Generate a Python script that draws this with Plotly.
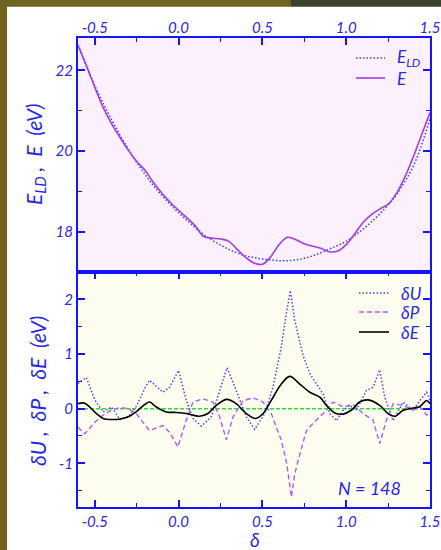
import plotly.graph_objects as go

# ---------------- data ----------------
X_RANGE = [-0.6, 1.5]

delta_top = [-0.60, -0.55, -0.50, -0.45, -0.40, -0.35, -0.30, -0.25, -0.20, -0.15,
             -0.10, -0.05, 0.00, 0.05, 0.10, 0.15, 0.20, 0.25, 0.30, 0.35,
             0.40, 0.45, 0.50, 0.55, 0.60, 0.65, 0.70, 0.75, 0.80, 0.85,
             0.90, 0.95, 1.00, 1.05, 1.10, 1.15, 1.20, 1.25, 1.30, 1.35,
             1.40, 1.45, 1.50]
E_vals = [22.62, 22.12, 21.58, 21.08, 20.68, 20.34, 20.02, 19.74, 19.52, 19.22,
          18.96, 18.73, 18.53, 18.34, 18.14, 17.88, 17.84, 17.82, 17.76, 17.56,
          17.36, 17.22, 17.19, 17.38, 17.68, 17.86, 17.80, 17.70, 17.64, 17.59,
          17.50, 17.52, 17.68, 17.94, 18.22, 18.42, 18.56, 18.68, 18.95, 19.35,
          19.85, 20.40, 20.95]
ELD_vals = [22.62, 22.10, 21.62, 21.18, 20.78, 20.40, 20.05, 19.72, 19.42, 19.14,
            18.90, 18.68, 18.47, 18.28, 18.10, 17.93, 17.79, 17.67, 17.56, 17.47,
            17.40, 17.36, 17.32, 17.30, 17.28, 17.28, 17.30, 17.34, 17.40, 17.48,
            17.57, 17.66, 17.76, 17.90, 18.06, 18.24, 18.44, 18.66, 18.92, 19.24,
            19.62, 20.15, 20.80]

dU_x = [-0.60, -0.55, -0.50, -0.45, -0.40, -0.35, -0.30, -0.25, -0.20, -0.173,
        -0.094, -0.054, 0.0, 0.046, 0.086, 0.136, 0.195, 0.254, 0.289, 0.344,
        0.404, 0.454, 0.514, 0.563, 0.613, 0.639, 0.667, 0.693, 0.713, 0.743,
        0.783, 0.822, 0.862, 0.902, 0.942, 0.982, 1.02, 1.06, 1.12, 1.16,
        1.20, 1.23, 1.28, 1.34, 1.40, 1.44, 1.48, 1.50]
dU_y = [0.46, 0.57, 0.16, -0.06, 0.03, -0.20, -0.15, 0.05, 0.38, 0.52,
        0.30, 0.39, 0.70, 0.15, -0.18, -0.32, -0.15, 0.40, 0.75, 0.33,
        -0.15, -0.38, -0.09, 0.39, 1.13, 1.67, 2.16, 1.61, 1.37, 0.97,
        0.64, 0.46, 0.27, -0.09, -0.22, -0.03, 0.06, -0.03, 0.33, 0.39,
        0.71, 0.21, -0.22, 0.12, -0.03, 0.15, 0.30, 0.15]

dP_x = [-0.60, -0.56, -0.50, -0.45, -0.40, -0.35, -0.30, -0.25, -0.20, -0.173,
        -0.094, -0.054, -0.004, 0.046, 0.086, 0.145, 0.205, 0.245, 0.285, 0.325,
        0.384, 0.444, 0.504, 0.553, 0.613, 0.645, 0.673, 0.693, 0.713, 0.763,
        0.822, 0.872, 0.922, 0.982, 1.04, 1.10, 1.16, 1.20, 1.24, 1.28,
        1.34, 1.40, 1.44, 1.48, 1.50]
dP_y = [-0.34, -0.46, -0.25, -0.12, -0.03, 0.02, 0.00, -0.10, -0.30, -0.40,
        -0.31, -0.43, -0.70, -0.21, 0.12, 0.18, 0.12, -0.15, -0.57, -0.15,
        0.14, 0.20, 0.12, -0.09, -0.58, -1.00, -1.62, -1.20, -0.95, -0.40,
        -0.21, -0.06, 0.12, 0.03, 0.08, -0.09, -0.21, -0.64, -0.21, 0.09,
        0.06, -0.03, 0.03, -0.12, -0.06]

dE_x = [-0.60, -0.56, -0.49, -0.45, -0.39, -0.35, -0.30, -0.25, -0.20, -0.173,
        -0.133, -0.074, -0.014, 0.046, 0.125, 0.175, 0.225, 0.289, 0.344, 0.404,
        0.46, 0.504, 0.553, 0.613, 0.663, 0.723, 0.783, 0.842, 0.882, 0.932,
        0.982, 1.03, 1.08, 1.13, 1.20, 1.25, 1.29, 1.34, 1.40, 1.44,
        1.48, 1.50]
dE_y = [0.09, 0.10, -0.09, -0.18, -0.20, -0.19, -0.15, -0.05, 0.08, 0.12,
        0.03, -0.06, -0.07, -0.09, -0.14, -0.09, 0.06, 0.17, 0.09, -0.09,
        -0.18, -0.09, 0.15, 0.45, 0.59, 0.45, 0.30, 0.21, 0.06, -0.08,
        -0.10, -0.03, 0.12, 0.16, 0.06, -0.09, -0.14, -0.03, 0.01, 0.04,
        0.15, 0.09]

x_tickvals = [-0.5, 0.0, 0.5, 1.0, 1.5]
x_ticktext = ["-0.5", "0.0", "0.5", "1.0", "1.5"]
y1_tickvals = [18, 20, 22]
y1_ticktext = ["18", "20", "22"]
y2_tickvals = [-1, 0, 1, 2]
y2_ticktext = ["-1", "0", "1", "2"]

# ---------------- styling ----------------
AX = "#1414ff"
TX = "#2828e8"
FONT = "Lato"
W, H = 441, 550
ML, MR, MT, MB = 78, 11, 38, 43
PW, PH = W - ML - MR, H - MT - MB

C_ELD = "#3c3cf0"
C_E = "#a23ee6"
C_DU = "#4646f2"
C_DP = "#b45af0"
C_DE = "black"
DOT = "1.5px,2px"
DASH = "5px,3px"


def px_x(p):
    return (p - ML) / PW


def px_y(p):
    return (H - MB - p) / PH


fig = go.Figure()

# top panel
fig.add_trace(go.Scatter(x=delta_top, y=ELD_vals, mode="lines", name="E_LD",
                         line=dict(color=C_ELD, width=1.5, dash=DOT, shape="spline"),
                         xaxis="x", yaxis="y"))
fig.add_trace(go.Scatter(x=delta_top, y=E_vals, mode="lines", name="E",
                         line=dict(color=C_E, width=1.6, shape="spline"),
                         xaxis="x", yaxis="y"))

# bottom panel
fig.add_trace(go.Scatter(x=X_RANGE, y=[0, 0], mode="lines",
                         line=dict(color="#2ee02e", width=1.5, dash="4px,2px"),
                         xaxis="x2", yaxis="y2", hoverinfo="skip"))
fig.add_trace(go.Scatter(x=dU_x, y=dU_y, mode="lines", name="δU",
                         line=dict(color=C_DU, width=1.5, dash=DOT),
                         xaxis="x2", yaxis="y2"))
fig.add_trace(go.Scatter(x=dP_x, y=dP_y, mode="lines", name="δP",
                         line=dict(color=C_DP, width=1.4, dash=DASH),
                         xaxis="x2", yaxis="y2"))
fig.add_trace(go.Scatter(x=dE_x, y=dE_y, mode="lines", name="δE",
                         line=dict(color=C_DE, width=1.6, shape="spline"),
                         xaxis="x2", yaxis="y2"))

tickfont = dict(family=FONT, size=15, color=TX, style="italic")
split = 235 / PH

common_x = dict(range=X_RANGE, tickvals=x_tickvals, ticktext=x_ticktext,
                ticks="inside", ticklen=7, tickwidth=1.5, tickcolor=AX,
                showline=True, linecolor=AX, linewidth=2, automargin=False,
                showgrid=False, zeroline=False, tickfont=tickfont,
                minor=dict(dtick=0.25, tick0=0, ticks="inside", ticklen=4,
                           tickwidth=1.2, tickcolor=AX))
common_y = dict(ticks="inside", ticklen=7, tickwidth=1.5, tickcolor=AX,
                showline=True, linecolor=AX, linewidth=2, mirror="ticks", automargin=False,
                showgrid=False, zeroline=False, tickfont=tickfont)

fig.update_layout(
    template="none",
    width=W, height=H, autosize=False,
    margin=dict(l=ML, r=MR, t=MT, b=MB, pad=0),
    paper_bgcolor="white", plot_bgcolor="white",
    font=dict(family=FONT, color=TX, style="italic"),
    showlegend=False,
    xaxis=dict(common_x, anchor="y", side="top", mirror=True, domain=[0, 1],
               ticklabelstandoff=-3),
    xaxis2=dict(common_x, anchor="y2", side="bottom", mirror="ticks", matches="x", domain=[0, 1]),
    yaxis=dict(common_y, domain=[split, 1], range=[17.0, 22.8],
               tickvals=y1_tickvals, ticktext=y1_ticktext,
               minor=dict(dtick=1, tick0=0, ticks="inside", ticklen=4, tickwidth=1.2, tickcolor=AX)),
    yaxis2=dict(common_y, domain=[0, split], range=[-1.8, 2.5],
                tickvals=y2_tickvals, ticktext=y2_ticktext,
                minor=dict(dtick=0.5, tick0=0, ticks="inside", ticklen=4, tickwidth=1.2, tickcolor=AX)),
)

shapes = [
    dict(type="rect", xref="x domain", yref="y domain", x0=0, x1=1, y0=0, y1=1,
         fillcolor="#fcf0fc", line=dict(width=0), layer="below"),
    dict(type="rect", xref="x2 domain", yref="y2 domain", x0=0, x1=1, y0=0, y1=1,
         fillcolor="#fefef0", line=dict(width=0), layer="below"),
    # window frame
    dict(type="rect", xref="paper", yref="paper", x0=px_x(-2), x1=px_x(7), y0=px_y(552), y1=px_y(-10),
         fillcolor="#746220", line=dict(width=0), layer="below"),
    dict(type="rect", xref="paper", yref="paper", x0=px_x(-2), x1=px_x(291), y0=px_y(6.7), y1=px_y(-10),
         fillcolor="#6e6421", line=dict(width=0), layer="below"),
    dict(type="rect", xref="paper", yref="paper", x0=px_x(291), x1=px_x(443), y0=px_y(6.7), y1=px_y(-10),
         fillcolor="#3b422a", line=dict(width=0), layer="below"),
]

afont = dict(family=FONT, size=21, color=TX, style="italic")
lfont = dict(family=FONT, size=17, color=TX, style="italic")
ann = [
    dict(text="E<sub>LD</sub> ,  E  (eV)", x=px_x(35), y=px_y(155), xref="paper", yref="paper",
         xanchor="center", yanchor="middle", textangle=-90, showarrow=False, font=afont),
    dict(text="δU ,  δP ,  δE  (eV)", x=px_x(37), y=px_y(391), xref="paper", yref="paper",
         xanchor="center", yanchor="middle", textangle=-90, showarrow=False, font=afont),
    dict(text="δ", x=px_x(255), y=px_y(539), xref="paper", yref="paper",
         xanchor="center", yanchor="middle", showarrow=False,
         font=dict(family=FONT, size=19, color=TX, style="italic")),
    dict(text="N = 148", x=px_x(369), y=px_y(488), xref="paper", yref="paper",
         xanchor="center", yanchor="middle", showarrow=False,
         font=dict(family=FONT, size=18, color=TX, style="italic")),
]

# manual legends (sample line + label)
legend_items = [
    ("E<sub>LD</sub>", C_ELD, DOT, 1.5, 356, 385, 395, 58),
    ("E", C_E, "solid", 1.6, 356, 385, 395, 78),
    ("δU", C_DU, DOT, 1.5, 359, 389, 399, 293),
    ("δP", C_DP, DASH, 1.4, 359, 389, 399, 312),
    ("δE", C_DE, "solid", 1.6, 359, 389, 399, 332),
]
for label, col, dash, w, xa, xb, xt, yy in legend_items:
    shapes.append(dict(type="line", xref="paper", yref="paper",
                       x0=px_x(xa), x1=px_x(xb), y0=px_y(yy), y1=px_y(yy),
                       line=dict(color=col, width=w, dash=dash), layer="above"))
    ann.append(dict(text=label, x=px_x(xt), y=px_y(yy), xref="paper", yref="paper",
                    xanchor="left", yanchor="middle", showarrow=False, font=lfont))

fig.update_layout(shapes=shapes, annotations=ann)

fig.write_html("out.html", config={"displayModeBar": False},
               post_script="document.body.style.margin='0';document.body.style.overflow='hidden';")
